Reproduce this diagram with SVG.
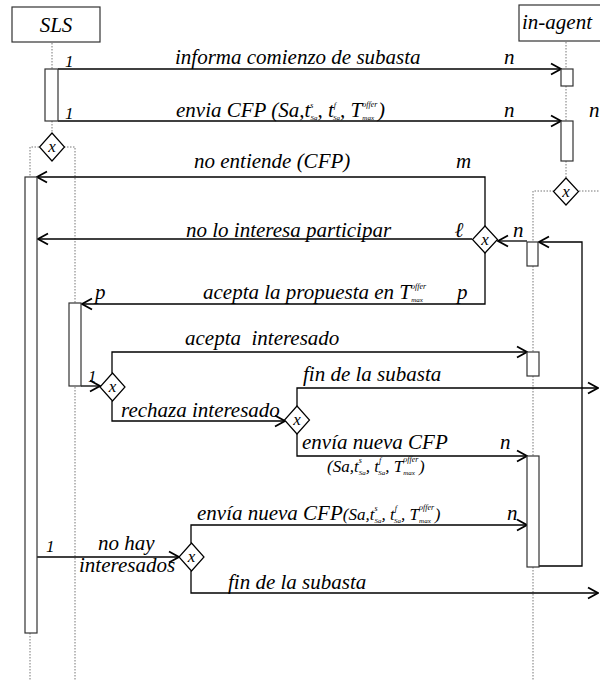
<svg xmlns="http://www.w3.org/2000/svg" width="600" height="681" viewBox="0 0 600 681">
<style>
.t{font-family:'Liberation Serif','Times New Roman','DejaVu Serif',serif;font-style:italic;font-size:21px;fill:#000}
.m{font-size:17px}
.sm{font-size:8px}
.xs{font-size:7px}
.one{font-size:17px}
.ln{fill:none;stroke:#000;stroke-width:1.3}
.box{fill:#fff;stroke:#333;stroke-width:1.2}
.dot{fill:none;stroke:#777;stroke-width:1;stroke-dasharray:1.5 1.5}
.dia{fill:#fff;stroke:#000;stroke-width:1.2}
.arr{marker-end:url(#ah)}
</style>
<defs>
<marker id="ah" markerWidth="12" markerHeight="14" refX="11" refY="7" orient="auto" markerUnits="userSpaceOnUse">
<path d="M1,1.5 L11,7 L1,12.5" fill="none" stroke="#000" stroke-width="1.8"/>
</marker>
</defs>
<rect width="600" height="681" fill="#fff"/>

<g id="lifelines">
<path class="dot" d="M52,43 V69 M52,121 V133 M39,147 H30 V177 M64,147 H75 V303 M75,387 V681 M30,633 V681"/>
<path class="dot" d="M566,42 V69 M566,86 V121 M566,161 V178 M554,191 H533 V242 M579,191 H600 M533,266 V352 M533,376 V456 M533,567 V681"/>
</g>

<g id="connectors">
<path class="ln arr" d="M58,69 H561"/>
<path class="ln arr" d="M58,121 H561"/>
<path class="ln arr" d="M485,226 V177 H37"/>
<path class="ln arr" d="M472,239 H38"/>
<path class="ln arr" d="M485,253 V304 H82"/>
<path class="ln arr" d="M527,241 H498"/>
<path class="ln arr" d="M539,566 H582 V242 H539"/>
<path class="ln arr" d="M81,386 H100"/>
<path class="ln arr" d="M112,373 V352 H527"/>
<path class="ln arr" d="M112,401 V421 H285"/>
<path class="ln arr" d="M297,406 V388 H598"/>
<path class="ln arr" d="M297,434 V456 H527"/>
<path class="ln arr" d="M37,557 H179"/>
<path class="ln arr" d="M191,543 V525 H527"/>
<path class="ln arr" d="M191,571 V593 H598"/>
</g>

<g id="SLS">
<rect class="box" x="12" y="7" width="88" height="35"/>
<text class="t" x="56" y="32" text-anchor="middle">SLS</text>
</g>
<g id="in-agent">
<rect class="box" x="519" y="5" width="90" height="36"/>
<text class="t" x="522" y="29">in-agent</text>
</g>

<g id="sls-act1"><rect class="box" x="45" y="69" width="13" height="52"/></g>
<g id="sls-act2"><rect class="box" x="25" y="177" width="12" height="456"/></g>
<g id="sls-act3"><rect class="box" x="69" y="303" width="12" height="83"/></g>
<g id="ag-act1"><rect class="box" x="561" y="69" width="12" height="17"/></g>
<g id="ag-act2"><rect class="box" x="561" y="121" width="12" height="40"/></g>
<g id="ag-act3"><rect class="box" x="527" y="242" width="11" height="24"/></g>
<g id="ag-act4"><rect class="box" x="527" y="352" width="12" height="24"/></g>
<g id="ag-act5"><rect class="box" x="527" y="456" width="12" height="111"/></g>

<g id="dec-sls"><path class="dia" d="M52,133 L64.5,147 L52,161 L39.5,147 Z"/><text class="t m" x="52" y="152" text-anchor="middle">x</text></g>
<g id="dec-agent"><path class="dia" d="M566,178 L578.5,191.5 L566,205 L553.5,191.5 Z"/><text class="t m" x="566" y="197" text-anchor="middle">x</text></g>
<g id="dec-resp"><path class="dia" d="M485,226 L497.5,239.5 L485,253 L472.5,239.5 Z"/><text class="t m" x="485" y="245" text-anchor="middle">x</text></g>
<g id="dec-acepta"><path class="dia" d="M112.5,373 L125,387 L112.5,401 L100,387 Z"/><text class="t m" x="112.5" y="392" text-anchor="middle">x</text></g>
<g id="dec-rechaza"><path class="dia" d="M297,406 L309.5,420 L297,434 L284.5,420 Z"/><text class="t m" x="297" y="425" text-anchor="middle">x</text></g>
<g id="dec-nohay"><path class="dia" d="M191.5,543 L204,557 L191.5,571 L179,557 Z"/><text class="t m" x="191.5" y="562" text-anchor="middle">x</text></g>

<g id="labels">
<text class="t one" x="65" y="67">1</text>
<text class="t" x="175" y="64">informa comienzo de subasta</text>
<text class="t" x="504" y="64">n</text>
<text class="t one" x="65" y="119">1</text>
<text class="t" x="176" y="117">envia CFP (Sa,t<tspan class="sm" dy="-9">s</tspan><tspan class="xs" dx="-3" dy="12">Sa</tspan><tspan dy="-3">, t</tspan><tspan class="sm" dy="-9">f</tspan><tspan class="xs" dx="-3" dy="12">Sa</tspan><tspan dy="-3">, T</tspan><tspan class="sm" dy="-10">offer</tspan><tspan class="xs" dx="-15" dy="13">max</tspan><tspan dx="4" dy="-3">)</tspan></text>
<text class="t" x="504" y="117">n</text>
<text class="t" x="589" y="117">n</text>
<text class="t" x="194" y="168">no entiende (CFP)</text>
<text class="t" x="456" y="168">m</text>
<text class="t" x="186" y="237">no lo interesa participar</text>
<text class="t" x="455" y="237" font-weight="bold">ℓ</text>
<text class="t" x="513" y="237">n</text>
<text class="t" x="203" y="299">acepta la propuesta en T<tspan class="sm" dy="-10">offer</tspan><tspan class="xs" dx="-15" dy="13">max</tspan></text>
<text class="t" x="95" y="299">p</text>
<text class="t" x="457" y="299">p</text>
<text class="t" x="185" y="345" style="white-space:pre">acepta  interesado</text>
<text class="t one" x="88" y="382">1</text>
<text class="t" x="121" y="417">rechaza interesado</text>
<text class="t" x="303" y="381">fin de la subasta</text>
<text class="t" x="302" y="449">envía nueva CFP</text>
<text class="t" x="500" y="449">n</text>
<text class="t m" x="327" y="472">(Sa,t<tspan class="sm" dy="-9">s</tspan><tspan class="xs" dx="-3" dy="12">Sa</tspan><tspan dy="-3">, t</tspan><tspan class="sm" dy="-9">f</tspan><tspan class="xs" dx="-3" dy="12">Sa</tspan><tspan dy="-3">, T</tspan><tspan class="sm" dy="-10">offer</tspan><tspan class="xs" dx="-15" dy="13">max</tspan><tspan dx="4" dy="-3">)</tspan></text>
<text class="t one" x="46" y="552">1</text>
<text class="t" x="98" y="550">no hay</text>
<text class="t" x="79" y="572">interesados</text>
<text class="t" x="197" y="520">envía nueva CFP<tspan class="m">(Sa,t</tspan><tspan class="sm" dy="-9">s</tspan><tspan class="xs" dx="-3" dy="12">Sa</tspan><tspan class="m" dy="-3">, t</tspan><tspan class="sm" dy="-9">f</tspan><tspan class="xs" dx="-3" dy="12">Sa</tspan><tspan class="m" dy="-3">, T</tspan><tspan class="sm" dy="-10">offer</tspan><tspan class="xs" dx="-15" dy="13">max</tspan><tspan class="m" dx="4" dy="-3">)</tspan></text>
<text class="t" x="507" y="520">n</text>
<text class="t" x="228" y="589">fin de la subasta</text>
</g>
</svg>
